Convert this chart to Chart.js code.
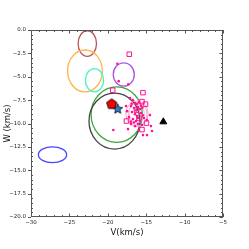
<!DOCTYPE html>
<html>
<head>
<meta charset="utf-8">
<script src="https://cdn.jsdelivr.net/npm/chart.js@4/dist/chart.umd.min.js"></script>
<style>
  html, body { margin: 0; padding: 0; background: #fff; }
  canvas { display: block; }
</style>
</head>
<body>
<canvas id="myChart" width="249" height="249"></canvas>
<script>
// ---------------------------------------------------------------------------
// data (V, W in km/s)
const xTicks = [-30, -25, -20, -15, -10, -5];
const yTicks = [-20, -17.5, -15, -12.5, -10, -7.5, -5, -2.5, 0];

// open pink squares
const squareV = [-17.2, -19.36, -15.42, -15.55, -15.09, -16.26, -17.57, -15.94, -14.96, -15.55];
const squareW = [-2.59, -6.44, -6.70, -7.66, -7.93, -8.57, -9.74, -9.42, -9.96, -10.65];

// small pink dots
const dotV = [-18.76, -18.58, -17.33, -19.28,
  -17.11, -16.72, -16.46, -16.20, -15.94, -16.98, -16.59, -16.07, -15.81, -17.50,
  -16.85, -16.46, -16.20, -15.68, -15.42, -17.24, -16.72, -16.33, -15.81, -15.29,
  -16.98, -16.46, -16.07, -15.55, -14.90, -14.51, -17.63, -15.42, -14.90, -14.24,
  -14.38, -15.94, -17.37, -16.90, -16.30, -15.70, -17.00, -16.60, -15.50, -16.10];
const dotW = [-3.61, -5.47, -5.80, -10.70,
  -7.29, -7.50, -7.82, -7.93, -7.72, -8.14, -8.35, -8.24, -8.46, -8.68,
  -8.78, -9.00, -9.21, -8.89, -9.11, -9.32, -9.53, -9.74, -9.74, -9.42,
  -10.06, -10.28, -10.06, -10.16, -9.64, -9.10, -8.14, -11.24, -11.24, -10.81,
  -10.28, -10.70, -10.60, -7.90, -8.60, -8.10, -9.80, -9.90, -8.30, -9.40];

// single objects
const pentagonV = [-19.49], pentagonW = [-7.93];
const starV = [-18.71], starW = [-8.46];
const triangleV = [-12.77], triangleW = [-9.82];

// ellipses: centre and semi axes
const ellipseV  = [-22.67, -22.97, -21.73, -17.92, -27.20, -18.84, -19.13, -16.20, -16.10, -16.25];
const ellipseW  = [-1.45, -4.38, -5.37, -4.76, -13.34, -9.05, -9.74, -8.96, -9.00, -8.90];
const ellipseRV = [1.20, 2.26, 1.19, 1.37, 1.84, 3.34, 3.32, 1.45, 1.20, 1.00];
const ellipseRW = [1.37, 2.24, 1.24, 1.24, 0.85, 2.97, 2.99, 1.39, 1.25, 1.05];
const ellipseColors = ['#b5555f', '#ffb347', '#4cf0c4', '#a457e6', '#4646ff', '#3aa83a', '#444444', '#ff9fcc', '#ffa8d2', '#ffb6d8'];

const PINK = '#ff1493';
const MINUS = '\u2212';
//---------------------------------------------------------------------------
function pts(xs, ys) {
    return xs.map((x, i) => ({ x: x, y: ys[i] }));
}

function markerCanvas(size, n, rOut, rIn, fill, lw) {
    const c = document.createElement('canvas');
    c.width = size; c.height = size;
    const g = c.getContext('2d');
    const cx = size / 2, cy = size / 2;
    g.beginPath();
    const steps = rIn ? n * 2 : n;
    for (let i = 0; i < steps; i++) {
        const r = rIn && i % 2 ? rIn : rOut;
        const a = -Math.PI / 2 + i * 2 * Math.PI / steps;
        const px = cx + r * Math.cos(a), py = cy + r * Math.sin(a);
        if (i === 0) g.moveTo(px, py); else g.lineTo(px, py);
    }
    g.closePath();
    g.fillStyle = fill;
    g.fill();
    g.lineWidth = lw;
    g.strokeStyle = '#000';
    g.stroke();
    return c;
}

function fmt(v, digits) {
    const s = Math.abs(v).toFixed(digits);
    return v < 0 ? MINUS + s : s;
}

// ellipses drawn through the scales
const ellipsePlugin = {
    id: 'ellipses',
    beforeDatasetsDraw(chart) {
        const { ctx, chartArea, scales } = chart;
        ctx.save();
        ctx.beginPath();
        ctx.rect(chartArea.left, chartArea.top, chartArea.right - chartArea.left, chartArea.bottom - chartArea.top);
        ctx.clip();
        ellipseV.forEach((v, i) => {
            const cx = scales.x.getPixelForValue(v);
            const cy = scales.y.getPixelForValue(ellipseW[i]);
            const rx = Math.abs(scales.x.getPixelForValue(v + ellipseRV[i]) - cx);
            const ry = Math.abs(scales.y.getPixelForValue(ellipseW[i] + ellipseRW[i]) - cy);
            ctx.beginPath();
            ctx.ellipse(cx, cy, rx, ry, 0, 0, 2 * Math.PI);
            ctx.strokeStyle = ellipseColors[i];
            ctx.lineWidth = i >= 7 ? 1 : 1.3;
            ctx.stroke();
        });
        ctx.restore();
    }
};

// frame plus major/minor ticks
const framePlugin = {
    id: 'frame',
    afterDraw(chart) {
        const { ctx, chartArea: a, scales } = chart;
        ctx.save();
        ctx.strokeStyle = '#555';
        ctx.lineWidth = 1;
        ctx.strokeRect(a.left + 0.5, a.top + 0.5, a.right - a.left - 1, a.bottom - a.top - 1);
        ctx.beginPath();
        for (let v = -30; v <= -5; v += 1) {
            const px = Math.round(scales.x.getPixelForValue(v)) + 0.5;
            const len = v % 5 === 0 ? 3.5 : 2;
            ctx.moveTo(px, a.bottom); ctx.lineTo(px, a.bottom - len);
            ctx.moveTo(px, a.top); ctx.lineTo(px, a.top + len);
        }
        for (let k = 0; k <= 40; k++) {
            const v = -20 + k * 0.5;
            const py = Math.round(scales.y.getPixelForValue(v)) + 0.5;
            const major = k % 5 === 0;
            if (major) { ctx.moveTo(a.left - 3, py); ctx.lineTo(a.left, py); }
            else { ctx.moveTo(a.left, py); ctx.lineTo(a.left + 2, py); }
            ctx.moveTo(a.right, py); ctx.lineTo(a.right - (major ? 3.5 : 2), py);
        }
        ctx.stroke();
        ctx.restore();
    }
};
//---------------------------------------------------------------------------
const tickFont = { family: 'DejaVu Sans', size: 5.5 };
const titleFont = { family: 'DejaVu Sans', size: 8.5 };

new Chart(document.getElementById('myChart'), {
    type: 'scatter',
    data: {
        datasets: [
            {
                label: 'dots', data: pts(dotV, dotW),
                pointStyle: 'circle', pointRadius: 1.3,
                backgroundColor: PINK, borderColor: PINK, borderWidth: 0
            },
            {
                label: 'squares', data: pts(squareV, squareW),
                pointStyle: 'rect', pointRadius: 3.2,
                backgroundColor: 'rgba(255,255,255,0)', borderColor: PINK, borderWidth: 1
            },
            {
                label: 'triangle', data: pts(triangleV, triangleW),
                pointStyle: 'triangle', pointRadius: 4,
                backgroundColor: '#000', borderColor: '#000', borderWidth: 1
            },
            {
                label: 'pentagon', data: pts(pentagonV, pentagonW),
                pointStyle: markerCanvas(13, 5, 5.3, 0, '#ff0000', 1)
            },
            {
                label: 'star', data: pts(starV, starW),
                pointStyle: markerCanvas(12, 5, 5.2, 2.3, '#2f7fd8', 0.8)
            }
        ]
    },
    options: {
        responsive: false,
        animation: false,
        layout: { padding: { left: 0, top: 30, right: 26, bottom: 0 } },
        plugins: { legend: { display: false }, tooltip: { enabled: false } },
        scales: {
            x: {
                type: 'linear', min: -30, max: -5,
                afterBuildTicks: s => { s.ticks = xTicks.map(v => ({ value: v })); },
                afterFit: s => { s.height = 32; },
                grid: { display: false, drawTicks: false },
                border: { display: false },
                ticks: { font: tickFont, color: '#222', padding: 2, maxRotation: 0,
                         callback: v => fmt(v, 0) },
                title: { display: true, text: 'V(km/s)', font: titleFont, color: '#111',
                         padding: { top: 0, bottom: 11 } }
            },
            y: {
                type: 'linear', min: -20, max: 0,
                afterBuildTicks: s => { s.ticks = yTicks.map(v => ({ value: v })); },
                afterFit: s => { s.width = 31; },
                grid: { display: false, drawTicks: false },
                border: { display: false },
                ticks: { font: tickFont, color: '#222', padding: 5,
                         callback: v => fmt(v, 1) },
                title: { display: true, text: 'W (km/s)', font: titleFont, color: '#111',
                         padding: { top: 3, bottom: 0 } }
            }
        }
    },
    plugins: [ellipsePlugin, framePlugin]
});
</script>
</body>
</html>
